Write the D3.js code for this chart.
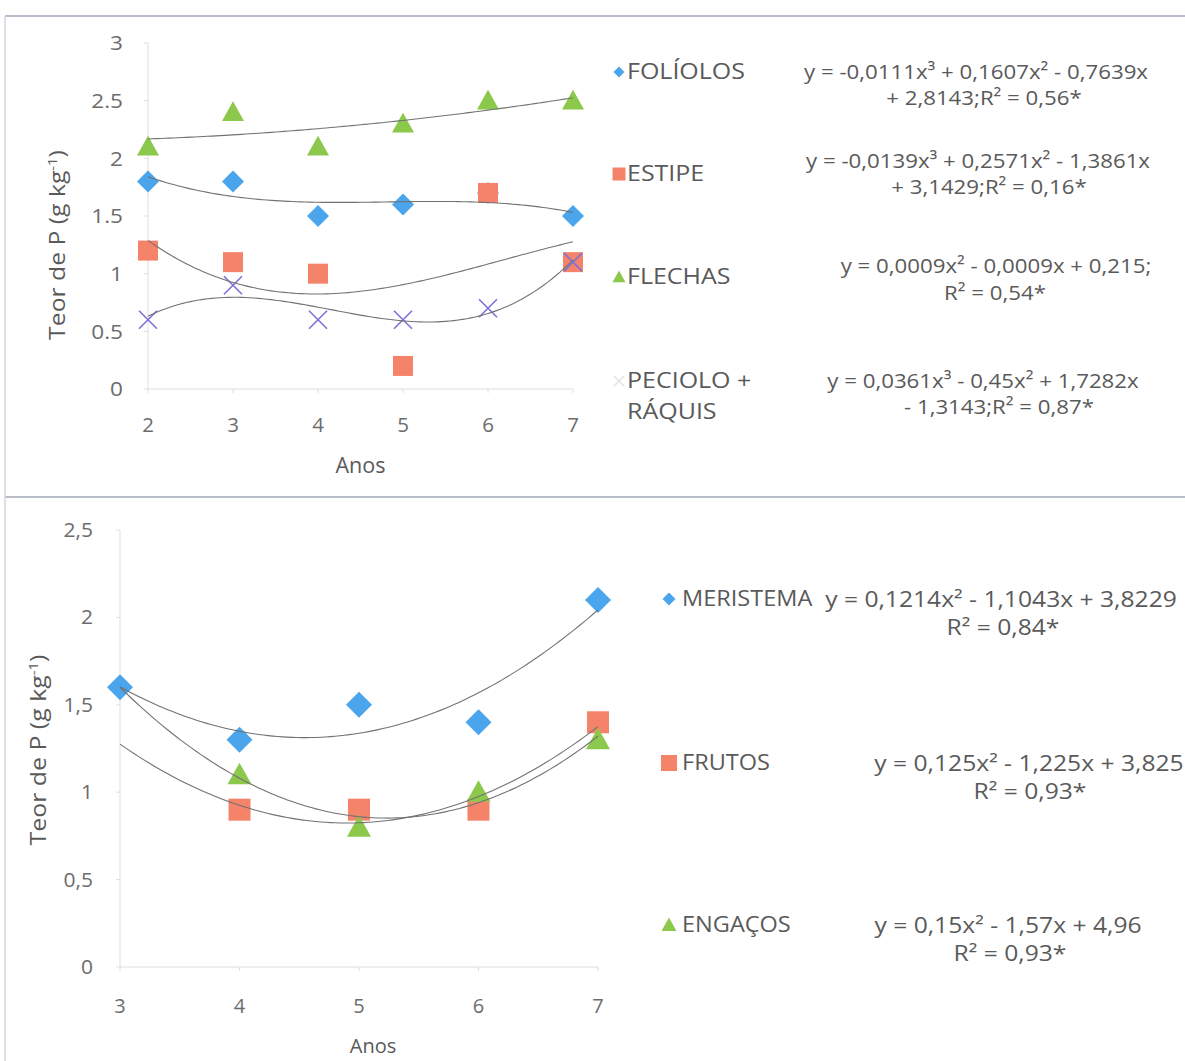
<!DOCTYPE html>
<html>
<head>
<meta charset="utf-8">
<script src="https://cdn.jsdelivr.net/npm/d3@7"></script>
<style>
  body { margin: 0; background: #fff; }
  svg text { font-family: "Open Sans", Lato, sans-serif; fill: #5a5a5a; }
  svg text.tick { fill: #6c6c6c; }
</style>
</head>
<body>
<script>
// ---- data ----
const topYears = [2, 3, 4, 5, 6, 7];
const foliolos = [1.8, 1.8, 1.5, 1.6, 1.7, 1.5];
const estipe   = [1.2, 1.1, 1.0, 0.2, 1.7, 1.1];
const flechas  = [2.1, 2.4, 2.1, 2.3, 2.5, 2.5];
const peciolo  = [0.6, 0.9, 0.6, 0.6, 0.7, 1.1];
const topYTicks = [0, 0.5, 1, 1.5, 2, 2.5, 3];

const bottomYears = [3, 4, 5, 6, 7];
const meristema = [1.6, 1.3, 1.5, 1.4, 2.1];
const frutos    = [null, 0.9, 0.9, 0.9, 1.4];
const engacos   = [null, 1.1, 0.8, 1.0, 1.3];
const bottomYTicks = [0, 0.5, 1, 1.5, 2, 2.5];

const topNames = ["FOLÍOLOS", "ESTIPE", "FLECHAS", "PECIOLO +|RÁQUIS"];
const topEquations = [
  ["y = -0,0111x³ + 0,1607x² - 0,7639x", "+ 2,8143;R² = 0,56*"],
  ["y = -0,0139x³ + 0,2571x² - 1,3861x", "+ 3,1429;R² = 0,16*"],
  ["y = 0,0009x² - 0,0009x + 0,215;", "R² = 0,54*"],
  ["y = 0,0361x³ - 0,45x² + 1,7282x", "- 1,3143;R² = 0,87*"]
];
const bottomNames = ["MERISTEMA", "FRUTOS", "ENGAÇOS"];
const bottomEquations = [
  ["y = 0,1214x² - 1,1043x + 3,8229", "R² = 0,84*"],
  ["y = 0,125x² - 1,225x + 3,825", "R² = 0,93*"],
  ["y = 0,15x² - 1,57x + 4,96", "R² = 0,93*"]
];

const colors = { diamond: "#4aa5ec", square: "#f5836a", triangle: "#8cc84b", cross: "#7c72d8" };
const trendColor = "#727272";

const svg = d3.select("body").append("svg")
  .attr("width", 1185).attr("height", 1061);

// widen text a bit: the original glyphs are broader than Open Sans
function widen(sel, k) {
  sel.each(function () {
    const w = this.getComputedTextLength();
    d3.select(this).attr("textLength", w * k).attr("lengthAdjust", "spacingAndGlyphs");
  });
  return sel;
}

// frame lines
const frame = svg.append("g").attr("stroke", "#b9bdc9").attr("stroke-width", 2);
frame.append("line").attr("x1", 5).attr("x2", 1185).attr("y1", 16).attr("y2", 16);
frame.append("line").attr("x1", 5).attr("x2", 1185).attr("y1", 497).attr("y2", 497);
frame.append("line").attr("x1", 5).attr("x2", 5).attr("y1", 16).attr("y2", 1061)
  .attr("stroke", "#d4d6dc").attr("stroke-width", 1.5);

// least squares polynomial fit (what the spreadsheet trendline does)
function polyfit(xs, ys, deg) {
  const pts = xs.map((x, i) => [x, ys[i]]).filter(p => p[1] != null);
  const n = deg + 1;
  const A = Array.from({ length: n }, () => new Array(n + 1).fill(0));
  pts.forEach(([x, y]) => {
    for (let r = 0; r < n; r++) {
      for (let c = 0; c < n; c++) A[r][c] += Math.pow(x, r + c);
      A[r][n] += y * Math.pow(x, r);
    }
  });
  for (let i = 0; i < n; i++) {
    let p = i;
    for (let k = i + 1; k < n; k++) if (Math.abs(A[k][i]) > Math.abs(A[p][i])) p = k;
    [A[i], A[p]] = [A[p], A[i]];
    for (let k = i + 1; k < n; k++) {
      const f = A[k][i] / A[i][i];
      for (let j = i; j <= n; j++) A[k][j] -= f * A[i][j];
    }
  }
  const coef = new Array(n).fill(0);
  for (let i = n - 1; i >= 0; i--) {
    let s = A[i][n];
    for (let j = i + 1; j < n; j++) s -= A[i][j] * coef[j];
    coef[i] = s / A[i][i];
  }
  return x => coef.reduce((acc, c, i) => acc + c * Math.pow(x, i), 0);
}

function marker(g, type, cx, cy, s) {
  if (type === "diamond") {
    return g.append("path").attr("d", `M${cx},${cy - s}L${cx + s},${cy}L${cx},${cy + s}L${cx - s},${cy}Z`)
      .attr("fill", colors.diamond);
  } else if (type === "square") {
    return g.append("rect").attr("x", cx - s).attr("y", cy - s).attr("width", 2 * s).attr("height", 2 * s)
      .attr("fill", colors.square);
  } else if (type === "triangle") {
    return g.append("path").attr("d", `M${cx},${cy - s}L${cx + s},${cy + s * 0.8}L${cx - s},${cy + s * 0.8}Z`)
      .attr("fill", colors.triangle);
  }
  return g.append("path").attr("d", `M${cx - s},${cy - s}L${cx + s},${cy + s}M${cx + s},${cy - s}L${cx - s},${cy + s}`)
    .attr("stroke", colors.cross).attr("stroke-width", 1.6).attr("fill", "none");
}

function drawPanel(opt) {
  const { x, y, years, series, yTicks, fmt, fs, titleX, titleY, anosY, ms } = opt;
  const g = svg.append("g");
  const [x0, x1] = x.range();
  const [y0, y1] = y.range();

  // axes lines
  g.append("line").attr("x1", x0).attr("x2", x0).attr("y1", y0).attr("y2", y1)
    .attr("stroke", "#dedede").attr("stroke-width", 1);
  g.append("line").attr("x1", x0).attr("x2", x1).attr("y1", y0).attr("y2", y0)
    .attr("stroke", "#dedede").attr("stroke-width", 1);
  yTicks.forEach(t => {
    g.append("line").attr("x1", x0 - 4).attr("x2", x0).attr("y1", y(t)).attr("y2", y(t))
      .attr("stroke", "#dedede");
    widen(g.append("text").attr("class", "tick").attr("x", x0 - opt.labelGap).attr("y", y(t))
      .attr("dy", "0.35em").attr("text-anchor", "end").attr("font-size", fs.tick).text(fmt(t)), fs.tickK);
  });
  years.forEach(t => {
    g.append("line").attr("x1", x(t)).attr("x2", x(t)).attr("y1", y0).attr("y2", y0 + 4)
      .attr("stroke", "#dedede");
    g.append("text").attr("class", "tick").attr("x", x(t)).attr("y", y0 + opt.xLabelGap).attr("dy", "0.35em")
      .attr("text-anchor", "middle").attr("font-size", fs.tick).text(t);
  });

  // axis titles
  g.append("text").attr("x", (x0 + x1) / 2 + opt.anosShift).attr("y", anosY).attr("dy", "0.35em")
    .attr("text-anchor", "middle").attr("font-size", fs.anos).text("Anos");
  const yt = g.append("text").attr("transform", `translate(${titleX},${titleY}) rotate(-90)`)
    .attr("text-anchor", "middle").attr("dy", "0.35em").attr("font-size", fs.title);
  yt.append("tspan").text("Teor de P (g kg");
  yt.append("tspan").attr("font-size", fs.title * 0.6).attr("dy", -8).text("-1");
  yt.append("tspan").attr("dy", 8).text(")");
  widen(yt, fs.titleK);

  // markers
  series.forEach(s => {
    years.forEach((yr, i) => {
      if (s.values[i] != null) marker(g, s.shape, x(yr), y(s.values[i]), ms[s.shape]);
    });
  });

  // trendlines
  const line = d3.line().x(d => x(d[0])).y(d => y(d[1]));
  series.forEach(s => {
    const f = polyfit(years, s.values, s.deg);
    const pts = d3.range(0, 101).map(k => {
      const xx = years[0] + (years[years.length - 1] - years[0]) * k / 100;
      return [xx, f(xx)];
    });
    g.append("path").attr("d", line(pts)).attr("fill", "none")
      .attr("stroke", trendColor).attr("stroke-width", 1.1);
  });
}

// top panel
const xTop = d3.scaleLinear().domain([2, 7]).range([148, 573]);
const yTop = d3.scaleLinear().domain([0, 3]).range([389, 43]);
drawPanel({
  x: xTop, y: yTop, years: topYears, yTicks: topYTicks, fmt: d3.format(""),
  fs: { tick: 20.5, tickK: 1.1, anos: 21.5, title: 21.5, titleK: 1.15 },
  titleX: 57, titleY: 245, anosY: 465, anosShift: 0, labelGap: 25, xLabelGap: 36,
  ms: { diamond: 11, square: 10, triangle: 11, cross: 9 },
  series: [
    { values: foliolos, shape: "diamond", deg: 3 },
    { values: estipe, shape: "square", deg: 3 },
    { values: flechas, shape: "triangle", deg: 2 },
    { values: peciolo, shape: "cross", deg: 3 }
  ]
});

// bottom panel
const xBot = d3.scaleLinear().domain([3, 7]).range([120, 598]);
const yBot = d3.scaleLinear().domain([0, 2.5]).range([967, 530]);
drawPanel({
  x: xBot, y: yBot, years: bottomYears, yTicks: bottomYTicks, fmt: d => String(d).replace(".", ","),
  fs: { tick: 20, tickK: 1.05, anos: 20, title: 22, titleK: 1.13 },
  titleX: 38, titleY: 750, anosY: 1046, anosShift: 14, labelGap: 27, xLabelGap: 39,
  ms: { diamond: 13, square: 11, triangle: 12, cross: 10 },
  series: [
    { values: meristema, shape: "diamond", deg: 2 },
    { values: frutos, shape: "square", deg: 2 },
    { values: engacos, shape: "triangle", deg: 2 }
  ]
});

// legends
const topShapes = ["diamond", "square", "triangle", "cross"];
const topLegY = [72, 174, 277, 381];
const topEqCenter = [[976, 984], [978, 989], [996, 995], [983, 999]];
const topEqY = [[72, 98], [161, 187], [266, 293], [381, 407]];
topNames.forEach((name, i) => {
  const g = svg.append("g");
  const ms = { diamond: 5.5, square: 6.5, triangle: 6.5, cross: 5 };
  const m = marker(g, topShapes[i], 619, topLegY[i], ms[topShapes[i]]);
  if (topShapes[i] === "cross") m.attr("stroke", "#e3e3e3");
  name.split("|").forEach((t, k) => {
    widen(g.append("text").attr("x", 627).attr("y", topLegY[i] + k * 31).attr("dy", "0.35em")
      .attr("font-size", 21).text(t), 1.19);
  });
  topEquations[i].forEach((t, k) => {
    widen(g.append("text").attr("x", topEqCenter[i][k])
      .attr("y", topEqY[i][k]).attr("dy", "0.35em").attr("text-anchor", "middle")
      .attr("font-size", 20.5).text(t), 1.085);
  });
});

const bottomShapes = ["diamond", "square", "triangle"];
const botLegY = [599, 763, 925];
const botEqCenter = [[1001, 1003], [1029, 1030], [1008, 1010]];
bottomNames.forEach((name, i) => {
  const g = svg.append("g");
  const ms = { diamond: 6.5, square: 8, triangle: 7.5 };
  marker(g, bottomShapes[i], 669, botLegY[i], ms[bottomShapes[i]]);
  widen(g.append("text").attr("x", 682).attr("y", botLegY[i]).attr("dy", "0.35em")
    .attr("font-size", 21).text(name), 1.12);
  bottomEquations[i].forEach((t, k) => {
    widen(g.append("text").attr("x", botEqCenter[i][k])
      .attr("y", botLegY[i] + k * 28).attr("dy", "0.35em").attr("text-anchor", "middle")
      .attr("font-size", 22).text(t), 1.12);
  });
});
</script>
</body>
</html>
